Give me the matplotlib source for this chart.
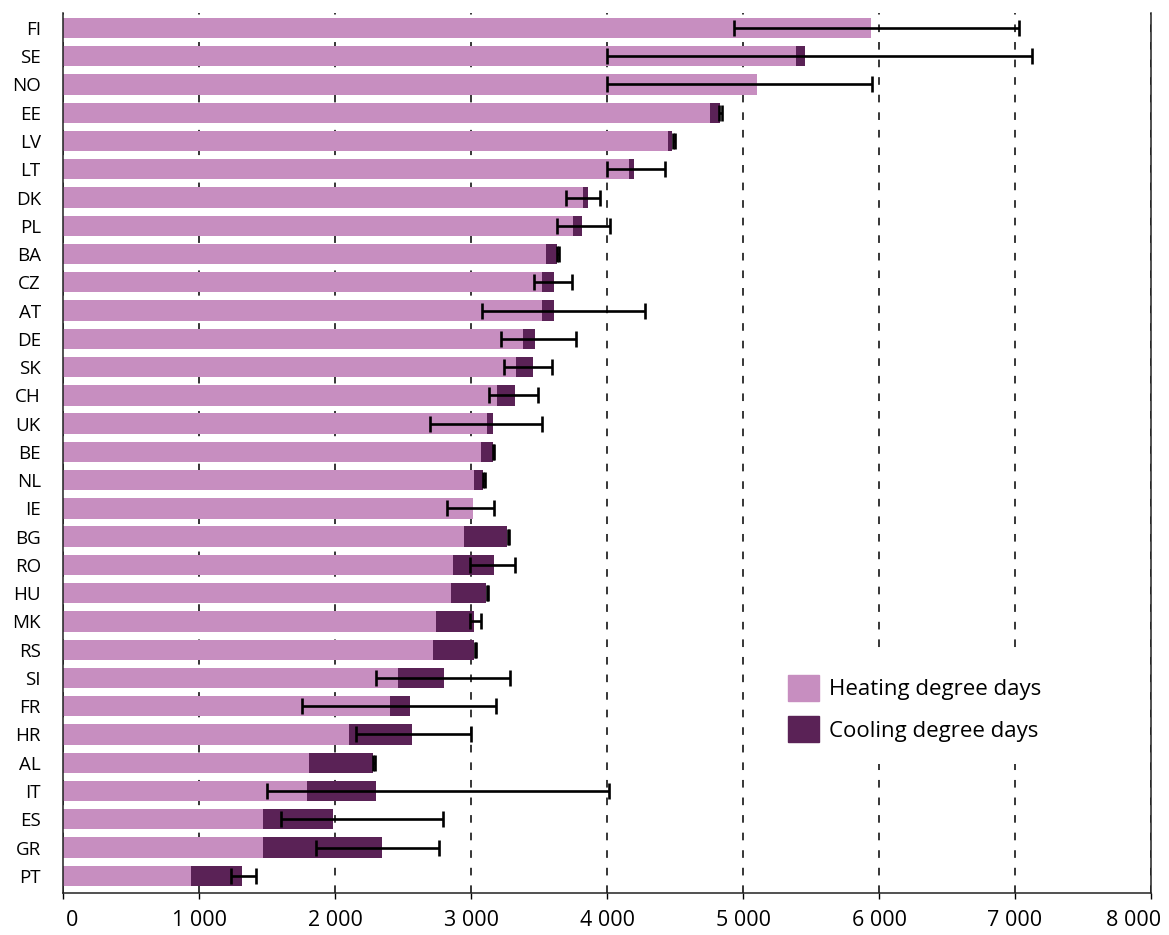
import matplotlib
matplotlib.use("Agg")
import matplotlib.pyplot as plt
import matplotlib.transforms as mtransforms
import numpy as np
from matplotlib.patches import Patch

plt.rcParams["font.family"] = ["Open Sans", "DejaVu Sans"]

countries = ["FI", "SE", "NO", "EE", "LV", "LT", "DK", "PL", "BA", "CZ",
             "AT", "DE", "SK", "CH", "UK", "BE", "NL", "IE", "BG", "RO",
             "HU", "MK", "RS", "SI", "FR", "HR", "AL", "IT", "ES", "GR", "PT"]

heating = [5943, 5392, 5106, 4761, 4446, 4161, 3822, 3751, 3550, 3521,
           3521, 3383, 3331, 3193, 3121, 3075, 3019, 3013, 2951, 2869,
           2852, 2744, 2721, 2466, 2404, 2106, 1811, 1791, 1473, 1473, 940]
cooling = [0, 64, 0, 67, 32, 39, 38, 65, 85, 88,
           88, 89, 127, 131, 39, 85, 66, 0, 317, 298,
           256, 275, 298, 337, 147, 458, 465, 508, 515, 872, 376]

# range of the whiskers (low end, high end)
err_low = [4935, 4002, 4002, 4825, 4482, 4002, 3696, 3630, 3635, 3462,
           3078, 3219, 3246, 3134, 2702, 3160, 3088, 2820, 3270, 2993,
           3116, 2993, 3028, 2299, 1755, 2155, 2280, 1503, 1601, 1860, 1235]
err_high = [7029, 7124, 5945, 4845, 4500, 4429, 3948, 4019, 3648, 3740,
            4280, 3770, 3599, 3495, 3521, 3172, 3100, 3170, 3282, 3321,
            3128, 3075, 3040, 3288, 3183, 3003, 2292, 4015, 2797, 2764, 1418]

tick_vals = [0, 1000, 2000, 3000, 4000, 5000, 6000, 7000, 8000]
tick_labels = ["0", "1 000", "2 000", "3 000", "4 000", "5 000", "6 000", "7 000", "8 000"]

heat_col = "#c78ec0"
cool_col = "#5a2256"

y = np.arange(len(countries))
heating = np.array(heating)
cooling = np.array(cooling)
lo = np.array(err_low)
hi = np.array(err_high)

fig = plt.figure(figsize=(11.69, 9.35), dpi=100)
ax = fig.add_axes([0.0539, 0.0449, 0.9307, 0.9412])

ax.barh(y, heating, height=0.72, color=heat_col, zorder=2)
ax.barh(y, cooling, left=heating, height=0.72, color=cool_col, zorder=2)
ax.errorbar((lo + hi) / 2, y, xerr=(hi - lo) / 2, fmt="none", ecolor="black",
            elinewidth=1.9, capsize=6, capthick=1.9, zorder=3)

ax.set_xlim(0, 8000)
ax.set_ylim(len(countries) - 1 + 0.61, -0.53)
ax.set_xticks(tick_vals)
ax.set_xticklabels(tick_labels, fontsize=15.5)
ax.set_yticks(y)
ax.set_yticklabels(countries, fontsize=13.5)
ax.tick_params(axis="y", length=0, pad=16)
ax.tick_params(axis="x", length=4, width=1, pad=8)

# nudge the first and last x labels inward like the original
labs = ax.get_xticklabels()
labs[0].set_transform(labs[0].get_transform() +
                      mtransforms.ScaledTranslation(9 / 100, 0, fig.dpi_scale_trans))
labs[-1].set_transform(labs[-1].get_transform() +
                       mtransforms.ScaledTranslation(-17 / 100, 0, fig.dpi_scale_trans))

ax.set_axisbelow(True)
ax.xaxis.grid(True, color="black", linewidth=1.1, linestyle=(0, (5, 6.5)))
ax.spines["top"].set_visible(False)
for s in ["left", "right", "bottom"]:
    ax.spines[s].set_linewidth(1.1)
    ax.spines[s].set_color("#222222")

handles = [Patch(color=heat_col, label="Heating degree days"),
           Patch(color=cool_col, label="Cooling degree days")]
leg = ax.legend(handles=handles, loc="upper left", bbox_to_anchor=(0.646, 0.2727),
                borderaxespad=0, fontsize=16, frameon=True, fancybox=False,
                borderpad=1.0, handlelength=1.4, handleheight=1.4,
                handletextpad=0.45, labelspacing=0.7)
leg.get_frame().set_edgecolor("none")
leg.get_frame().set_facecolor("white")
leg.get_frame().set_alpha(1)

fig.savefig("out.png", dpi=100)
